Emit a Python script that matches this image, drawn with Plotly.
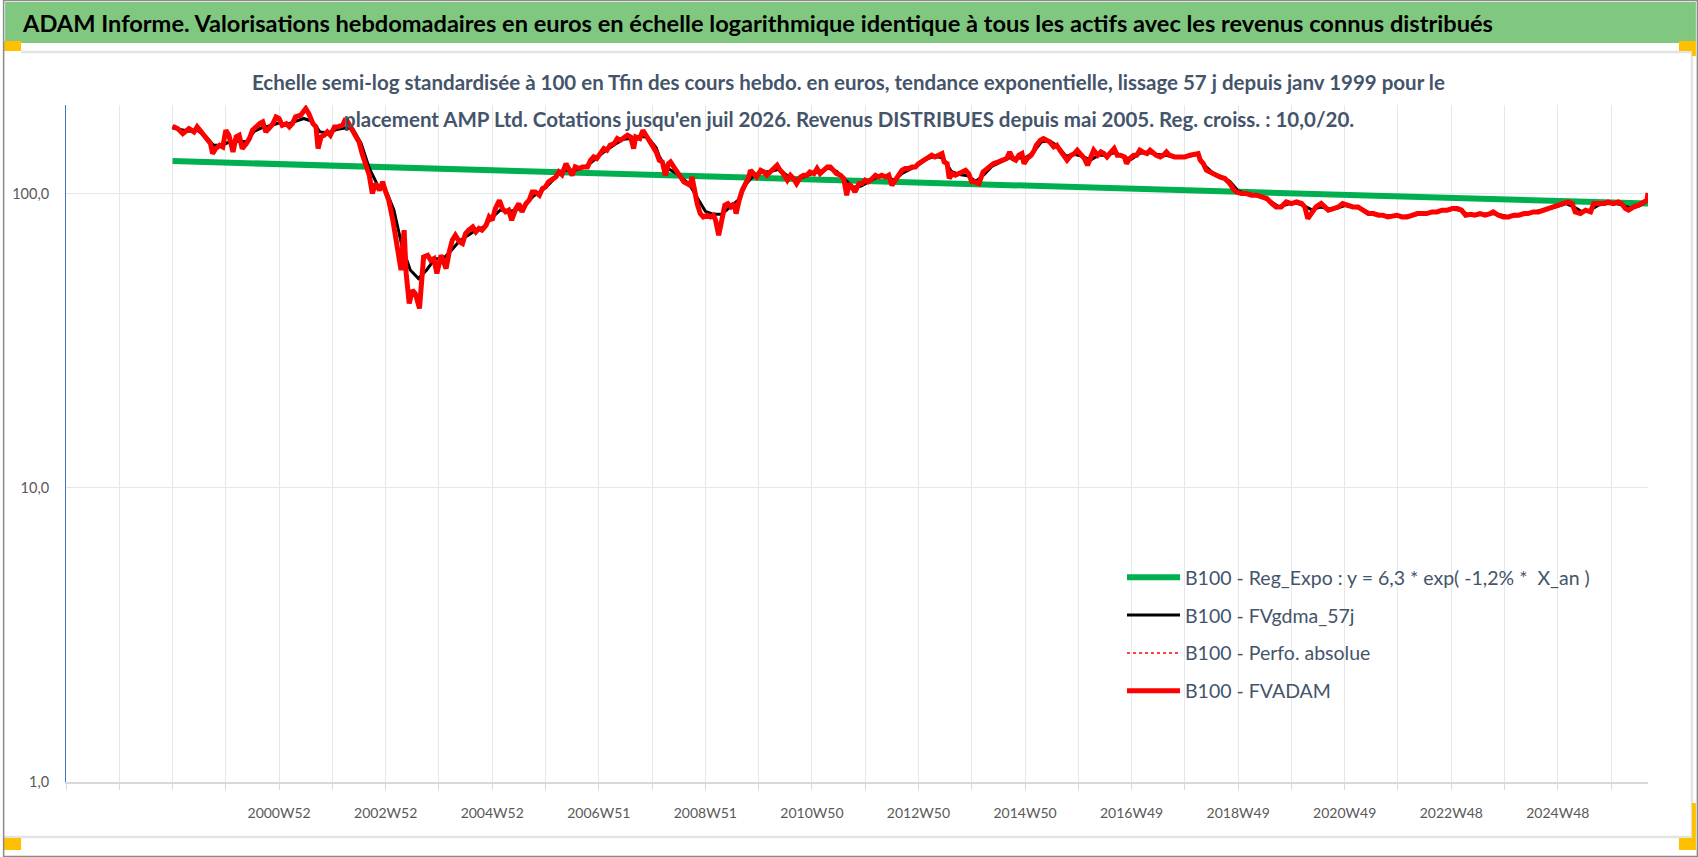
import plotly.graph_objects as go

# ---------------- DATA ----------------
# x = rang de la semaine sur l'axe des catégories (0 = 1996W52)
etiquettes = ["2000W52", "2002W52", "2004W52", "2006W51", "2008W51", "2010W50", "2012W50",
              "2014W50", "2016W49", "2018W49", "2020W49", "2022W48", "2024W48"]
semaines_etiquettes = [208, 312, 416, 520, 624, 728, 832, 936, 1040, 1144, 1248, 1352, 1456]
semaine_max = 1544

# B100 - Reg_Expo
semaines_reg = [104, 1544]
reg_expo = [129.0, 92.5]

# B100 - FVADAM (et Perfo. absolue, superposée)
semaines_fvadam = [
    104, 109, 114, 117, 120, 125, 128, 132, 135, 138, 141, 143, 146, 150, 153, 156, 159, 163, 166, 169,
    172, 176, 179, 182, 185, 189, 192, 195, 198, 202, 205, 208, 211, 215, 218, 221, 224, 229, 234, 237,
    241, 244, 246, 249, 252, 255, 258, 262, 265, 270, 273, 276, 280, 283, 286, 289, 293, 296, 299, 302,
    306, 309, 312, 315, 319, 322, 325, 327, 328, 330, 332, 335, 338, 341, 345, 347, 349, 353, 356, 359,
    362, 366, 369, 371, 374, 377, 380, 384, 387, 390, 393, 397, 400, 403, 406, 410, 413, 416, 419, 423,
    426, 429, 432, 435, 439, 442, 445, 449, 452, 455, 458, 462, 465, 468, 471, 475, 478, 481, 484, 488,
    491, 494, 497, 501, 504, 509, 512, 515, 518, 522, 525, 528, 531, 535, 538, 541, 544, 548, 551, 554,
    556, 560, 563, 566, 569, 573, 576, 579, 582, 585, 588, 590, 593, 596, 600, 603, 606, 609, 611, 613,
    616, 619, 622, 626, 629, 632, 634, 637, 640, 643, 646, 649, 652, 654, 657, 660, 664, 666, 668, 671,
    674, 678, 681, 684, 687, 691, 694, 697, 700, 704, 707, 710, 713, 717, 720, 723, 726, 730, 733, 736,
    739, 743, 746, 749, 752, 756, 759, 762, 764, 767, 770, 774, 777, 780, 783, 787, 790, 793, 796, 800,
    803, 806, 809, 813, 816, 819, 822, 826, 829, 832, 835, 839, 842, 845, 848, 852, 855, 857, 860, 862,
    865, 868, 871, 874, 878, 881, 884, 887, 891, 895, 900, 905, 910, 915, 918, 921, 924, 927, 930, 933,
    935, 938, 942, 945, 947, 951, 954, 957, 960, 964, 967, 970, 973, 977, 981, 984, 987, 990, 994, 997,
    1000, 1003, 1007, 1010, 1013, 1016, 1020, 1023, 1026, 1029, 1033, 1035, 1038, 1042, 1045, 1048, 1051,
    1055, 1058, 1061, 1064, 1068, 1071, 1074, 1077, 1082, 1087, 1092, 1097, 1102, 1105, 1107, 1110, 1113,
    1116, 1121, 1126, 1131, 1136, 1139, 1142, 1147, 1152, 1157, 1162, 1167, 1172, 1177, 1181, 1186, 1191,
    1196, 1201, 1206, 1209, 1212, 1216, 1220, 1225, 1229, 1232, 1237, 1242, 1246, 1251, 1256, 1261, 1266,
    1271, 1276, 1281, 1285, 1290, 1299, 1304, 1309, 1314, 1319, 1323, 1328, 1333, 1338, 1343, 1348, 1353,
    1358, 1362, 1366, 1371, 1375, 1380, 1385, 1390, 1393, 1398, 1403, 1408, 1413, 1418, 1423, 1427, 1432,
    1437, 1442, 1447, 1452, 1457, 1462, 1466, 1470, 1473, 1478, 1483, 1488, 1491, 1496, 1501, 1505, 1510,
    1515, 1518, 1522, 1525, 1530, 1535, 1540, 1543, 1544]
fvadam = [
    169.4, 166.3, 159.9, 164.1, 166.3, 162.0, 168.5, 162.0, 157.8, 151.8, 147.9, 136.7, 142.2, 146.0, 144.1, 164.1, 157.8, 138.5, 155.8, 157.8,
    142.2, 147.9, 153.8, 164.1, 168.5, 172.9, 175.2, 162.0, 166.3, 172.9, 182.2, 179.8, 170.7, 172.9, 168.5, 172.9, 182.2, 184.6, 194.5, 187.0,
    172.9, 168.5, 142.2, 155.8, 157.8, 162.0, 157.8, 168.5, 168.5, 170.7, 179.8, 172.9, 162.0, 155.8, 149.8, 136.7, 123.2, 115.4, 100.0, 108.1,
    102.6, 109.6, 101.3, 94.9, 81.2, 69.4, 62.5, 54.9, 62.5, 75.1, 53.5, 42.3, 46.9, 45.7, 40.7, 50.7, 60.9, 61.7, 59.3, 60.1,
    53.5, 61.7, 58.6, 55.6, 63.3, 69.4, 72.2, 68.5, 67.6, 73.1, 75.1, 77.0, 74.1, 76.1, 75.1, 78.1, 83.3, 81.2, 88.9, 94.9,
    88.9, 86.6, 87.8, 81.2, 88.9, 92.5, 86.6, 92.5, 94.9, 101.3, 101.3, 98.7, 104.0, 105.4, 109.6, 112.5, 113.9, 118.5, 116.0, 126.4,
    120.0, 115.4, 123.2, 121.6, 123.2, 123.2, 129.8, 133.2, 131.5, 138.5, 142.2, 140.4, 146.0, 147.9, 153.8, 151.8, 153.8, 157.8, 155.8, 142.2,
    155.8, 153.8, 164.1, 157.8, 151.8, 146.0, 138.5, 129.8, 128.1, 115.4, 126.4, 128.1, 123.2, 120.0, 112.5, 109.6, 108.1, 106.7, 113.9, 104.0,
    92.5, 85.5, 83.3, 84.4, 83.3, 84.4, 81.2, 72.2, 83.3, 91.3, 92.5, 90.1, 92.5, 85.5, 94.9, 102.6, 109.6, 112.5, 120.0, 116.9,
    113.9, 120.0, 118.5, 115.4, 118.5, 123.2, 124.8, 120.0, 116.9, 111.0, 115.4, 112.5, 108.1, 113.9, 115.4, 115.4, 118.5, 116.9, 121.6, 116.9,
    120.0, 123.2, 123.2, 120.0, 116.9, 115.4, 112.5, 98.7, 108.1, 105.4, 101.3, 108.1, 108.1, 111.0, 109.6, 112.5, 115.4, 113.9, 115.4, 113.9,
    115.4, 106.7, 111.0, 115.4, 120.0, 121.6, 121.6, 123.2, 123.2, 126.4, 128.1, 131.5, 133.2, 135.0, 133.2, 135.0, 136.7, 128.1, 126.4, 112.5,
    116.9, 115.4, 116.9, 118.5, 120.0, 116.9, 109.6, 109.6, 108.1, 118.5, 123.2, 126.4, 128.1, 129.8, 131.5, 138.5, 131.5, 129.8, 135.0, 136.7,
    126.4, 131.5, 135.0, 140.4, 146.0, 151.8, 153.8, 151.8, 149.8, 144.1, 146.0, 140.4, 135.0, 129.8, 135.0, 136.7, 140.4, 136.7, 131.5, 124.8,
    131.5, 140.4, 135.0, 138.5, 136.7, 133.2, 138.5, 142.2, 135.0, 135.0, 133.2, 126.4, 131.5, 135.0, 135.0, 140.4, 138.5,
    136.7, 140.4, 136.7, 135.0, 133.2, 135.0, 138.5, 135.0, 133.2, 133.2, 133.2, 135.0, 136.7, 136.7, 129.8, 126.4, 120.0,
    118.5, 115.4, 113.9, 112.5, 108.1, 104.0, 101.3, 100.0, 100.0, 98.7, 98.7, 97.4, 96.2, 92.5, 90.1, 90.1, 93.7,
    92.5, 93.7, 92.5, 90.1, 82.2, 86.6, 90.1, 92.5, 90.1, 87.8, 88.9, 90.1, 92.5, 91.3, 90.1, 90.1, 87.8,
    85.5, 85.5, 84.4, 84.4, 83.3, 84.4, 83.3, 83.3, 84.4, 85.5, 85.5, 85.5, 86.6, 86.6, 87.8, 87.8, 88.9,
    88.9, 87.8, 84.4, 85.0, 84.4, 85.5, 84.4, 85.5, 86.6, 84.4, 83.3, 83.3, 84.4, 84.4, 85.5, 85.5, 86.6,
    86.6, 87.8, 88.9, 90.1, 91.3, 92.5, 93.7, 92.5, 86.6, 85.5, 87.8, 86.6, 92.5, 92.5, 92.5, 93.7, 92.5,
    93.7, 92.5, 88.9, 87.8, 90.1, 91.3, 93.7, 94.9, 100.5]

# B100 - FVgdma_57j (moyenne mobile lissée)
semaines_fvgdma = [
    104, 112, 120, 128, 136, 144, 152, 160, 168, 176, 184, 192, 200, 208, 216, 224, 232, 240, 248, 256,
    264, 272, 280, 288, 296, 304, 312, 320, 328, 336, 344, 352, 360, 368, 376, 384, 392, 400, 408, 416,
    424, 432, 440, 448, 456, 464, 472, 480, 488, 496, 504, 512, 520, 528, 536, 544, 552, 560, 568, 576,
    579, 585, 596, 608, 616, 624, 632, 640, 648, 656, 664, 672, 680, 688, 696, 704, 712, 720, 728, 736,
    744, 752, 760, 768, 776, 784, 792, 800, 808, 816, 824, 832, 840, 848, 856, 864, 872, 880, 888, 896,
    904, 912, 920, 928, 936, 944, 952, 960, 968, 976, 984, 992, 1000, 1008, 1016, 1024, 1032, 1040, 1048,
    1056, 1064, 1072, 1080, 1088, 1096, 1104, 1112, 1120, 1128, 1136, 1144, 1152, 1160, 1168, 1176, 1184,
    1192, 1200, 1208, 1216, 1224, 1232, 1240, 1248, 1256, 1264, 1272, 1280, 1288, 1296, 1304, 1312, 1320,
    1328, 1336, 1344, 1352, 1360, 1368, 1376, 1384, 1392, 1400, 1408, 1416, 1424, 1432, 1440, 1448, 1456,
    1464, 1472, 1480, 1488, 1496, 1504, 1512, 1520, 1528, 1536, 1544]
fvgdma = [
    167, 165, 163, 164, 157, 146, 146, 150, 151, 150, 163, 168, 170, 174, 172, 176, 180, 176, 162, 161,
    165, 167, 166, 148, 122, 107, 103, 88, 66, 55, 51.4, 55, 60, 60, 64, 69, 72, 75, 77, 83,
    88, 87, 88, 91, 98, 102, 108, 116, 120, 120, 122, 127, 134, 141, 147, 153, 154, 157, 155, 143,
    134, 123, 117, 108, 97, 87, 85, 85, 90, 95, 108, 116, 118, 119, 121, 115, 111, 114, 117, 119,
    122, 119, 112, 105, 106, 110, 114, 115, 111, 117, 121, 125, 131, 134, 132, 119, 116, 115, 110, 116,
    124, 128, 132, 132, 132, 138, 150, 151, 145, 134, 136, 134, 130, 135, 135, 138, 133, 131, 137,
    138, 136, 135, 134, 133, 134, 136, 124, 117, 114, 110, 102, 100, 99, 97, 94, 90,
    92, 93, 91, 88, 90, 89, 89, 91, 90, 89, 86, 85, 84, 84, 83.5, 84, 85,
    85.5, 86.5, 87.5, 88.5, 88, 85, 84.5, 85, 85.5, 84.5, 83.5, 84, 85.5, 86.5, 87.5, 89, 90.5,
    92.5, 90, 86.5, 88, 91.5, 92.5, 93, 91, 89, 91, 95]

# ---------------- LAYOUT ----------------
W, H = 1698, 857
ML, MR, MT, MB = 63, 50, 105, 75
PW, PH = W - ML - MR, H - MT - MB


def px(x):
    return (x - ML) / PW


def py(y):
    return (H - MB - y) / PH


FONT = "Lato"
TXT = "#44546a"

fig = go.Figure()
fig.add_trace(go.Scatter(x=semaines_reg, y=reg_expo, mode="lines",
                         name="B100 - Reg_Expo : y = 6,3 * exp( -1,2% *  X_an )",
                         line=dict(color="#00b050", width=6), legendgroup="a"))
fig.add_trace(go.Scatter(x=semaines_fvgdma, y=fvgdma, mode="lines", name="B100 - FVgdma_57j",
                         line=dict(color="#000000", width=3), legendgroup="b"))
fig.add_trace(go.Scatter(x=semaines_fvadam, y=fvadam, mode="lines", name="B100 - Perfo. absolue",
                         line=dict(color="#ff0000", width=1.5, dash="dot"), legendgroup="c"))
fig.add_trace(go.Scatter(x=semaines_fvadam, y=fvadam, mode="lines", name="B100 - FVADAM",
                         line=dict(color="#ff0000", width=5), legendgroup="d"))

tickvals = list(range(0, semaine_max, 52))
ticktext = [etiquettes[semaines_etiquettes.index(v)] if v in semaines_etiquettes else "" for v in tickvals]

fig.update_xaxes(range=[0, semaine_max], tickvals=tickvals, ticktext=ticktext,
                 showgrid=True, gridcolor="#e4e7ec", gridwidth=1,
                 ticks="outside", ticklen=6, tickcolor="#d9d9d9",
                 showline=True, linecolor="#d9d9d9", linewidth=1.5,
                 tickfont=dict(family=FONT, size=14, color="#595959"),
                 ticklabelstandoff=11, zeroline=False)
fig.update_yaxes(type="log", range=[0, 2.30103], tickvals=[1, 10, 100], ticktext=["1,0", "10,0", "100,0"],
                 showgrid=True, gridcolor="#e4e7ec", gridwidth=1,
                 showline=True, linecolor="#4472c4", linewidth=1,
                 ticks="", tickfont=dict(family=FONT, size=14.5, color="#595959"),
                 ticklabelstandoff=13, zeroline=False)

shapes = [
    dict(type="rect", xref="paper", yref="paper", x0=px(2), x1=px(1696), y0=py(2), y1=py(43),
         fillcolor="#80c87f", line=dict(width=0), layer="above"),
    dict(type="line", xref="paper", yref="paper", x0=px(18), x1=px(1692), y0=py(52), y1=py(52),
         line=dict(color="#e3e3e3", width=2.5)),
    dict(type="line", xref="paper", yref="paper", x0=px(1692), x1=px(1692), y0=py(52), y1=py(837),
         line=dict(color="#e3e3e3", width=2.5)),
    dict(type="line", xref="paper", yref="paper", x0=px(0), x1=px(1692), y0=py(837), y1=py(837),
         line=dict(color="#e3e3e3", width=2.5)),
    dict(type="rect", xref="paper", yref="paper", x0=px(1), x1=px(18), y0=py(41), y1=py(51),
         fillcolor="#ffc000", line=dict(width=0)),
    dict(type="rect", xref="paper", yref="paper", x0=px(1679), x1=px(1696), y0=py(41), y1=py(51),
         fillcolor="#ffc000", line=dict(width=0)),
    dict(type="rect", xref="paper", yref="paper", x0=px(1692), x1=px(1696), y0=py(51), y1=py(56),
         fillcolor="#ffc000", line=dict(width=0)),
    dict(type="rect", xref="paper", yref="paper", x0=px(0), x1=px(18), y0=py(838), y1=py(850),
         fillcolor="#ffc000", line=dict(width=0)),
    dict(type="rect", xref="paper", yref="paper", x0=px(1679), x1=px(1696), y0=py(838), y1=py(850),
         fillcolor="#ffc000", line=dict(width=0)),
    dict(type="rect", xref="paper", yref="paper", x0=px(1692), x1=px(1696), y0=py(803), y1=py(838),
         fillcolor="#ffc000", line=dict(width=0)),
    dict(type="rect", xref="paper", yref="paper", x0=px(0.5), x1=px(1697.5), y0=py(0.5), y1=py(856.5),
         fillcolor="rgba(0,0,0,0)", line=dict(color="#8a8a8a", width=1.5)),
]

annotations = [
    dict(xref="paper", yref="paper", x=px(17), y=py(23), xanchor="left", yanchor="middle", showarrow=False,
         text="<b>ADAM Informe. Valorisations hebdomadaires en euros en échelle logarithmique identique à tous les actifs avec les revenus connus distribués</b>",
         font=dict(family=FONT, size=23.6, color="#000000")),
    dict(xref="paper", yref="paper", x=px(847), y=py(82), xanchor="center", yanchor="middle", showarrow=False,
         text="<b>Echelle semi-log standardisée à 100 en Tfin des cours hebdo. en euros, tendance exponentielle, lissage 57 j depuis janv 1999 pour le</b>",
         font=dict(family=FONT, size=20.5, color=TXT)),
    dict(xref="paper", yref="paper", x=px(847), y=py(119), xanchor="center", yanchor="middle", showarrow=False,
         text="<b>placement AMP Ltd. Cotations jusqu'en juil 2026. Revenus DISTRIBUES depuis mai 2005. Reg. croiss. : 10,0/20.</b>",
         font=dict(family=FONT, size=20.5, color=TXT)),
]

fig.update_layout(
    width=W, height=H, autosize=False,
    margin=dict(l=ML, r=MR, t=MT, b=MB),
    paper_bgcolor="white", plot_bgcolor="white",
    shapes=shapes, annotations=annotations,
    showlegend=True,
    legend=dict(x=px(1121), y=py(558), xanchor="left", yanchor="top",
                bgcolor="rgba(0,0,0,0)", itemwidth=53, tracegroupgap=9.5,
                font=dict(family=FONT, size=19.5, color=TXT), itemclick=False),
    font=dict(family=FONT),
)

fig.write_html("out.html", config={"displayModeBar": False},
               post_script="document.body.style.margin='0px';document.body.style.overflow='hidden';")
